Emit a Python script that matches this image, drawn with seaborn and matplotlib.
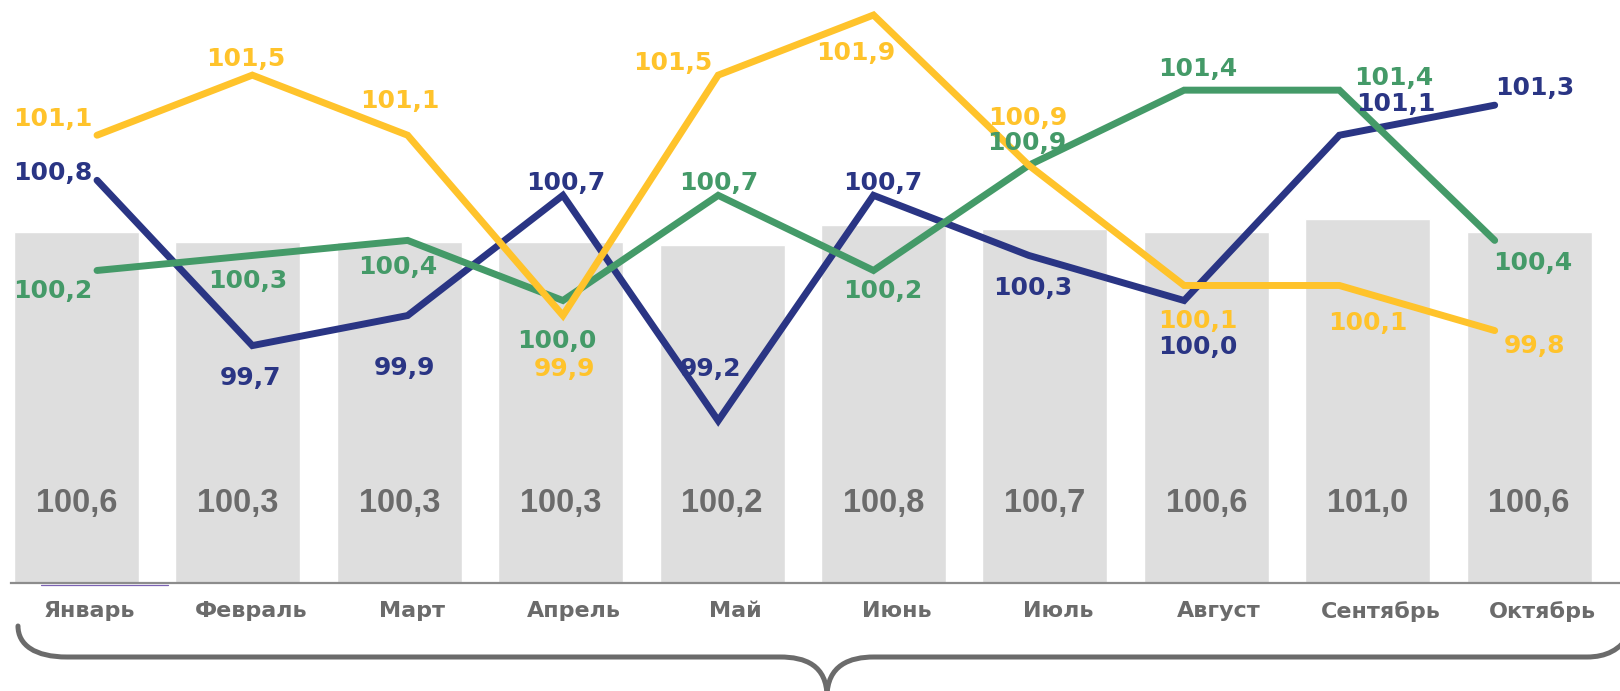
import numpy as np
import pandas as pd
import matplotlib
matplotlib.use("Agg")
import matplotlib.pyplot as plt
import seaborn as sns
from matplotlib.path import Path
from matplotlib.patches import PathPatch
from matplotlib.lines import Line2D

months = ["Январь", "Февраль", "Март", "Апрель", "Май", "Июнь", "Июль",
          "Август", "Сентябрь", "Октябрь"]
bar_values = [100.6, 100.3, 100.3, 100.3, 100.2, 100.8, 100.7, 100.6, 101.0, 100.6]
yellow_values = [101.1, 101.5, 101.1, 99.9, 101.5, 101.9, 100.9, 100.1, 100.1, 99.8]
blue_values = [100.8, 99.7, 99.9, 100.7, 99.2, 100.7, 100.3, 100.0, 101.1, 101.3]
green_values = [100.2, 100.3, 100.4, 100.0, 100.7, 100.2, 100.9, 101.4, 101.4, 100.4]

# label-centre offsets from each point, in pixels (x right, y down)
yellow_off = [(-44, -18), (-7, -18), (-8, -36), (2, 51), (-45, -14), (-18, 36),
              (-1, -49), (14, 34), (28, 36), (40, 13)]
blue_off = [(-44, -9), (-2, 30), (-3, 50), (3, -14), (-8, -54), (9, -14),
            (4, 31), (14, 44), (56, -33), (40, -19)]
green_off = [(-44, 19), (-5, 24), (-10, 25), (-6, 38), (1, -14), (9, 19),
             (-2, -24), (14, -23), (54, -14), (38, 21)]

C_YELLOW = "#FFC32B"
C_BLUE = "#2A3584"
C_GREEN = "#449A68"
C_BAR = "#DEDEDE"
C_TEXT = "#6B6B6B"

sns.set_style("white")
plt.rcParams["font.family"] = ["DejaVu Sans"]

W, H = 1620, 691
fig = plt.figure(figsize=(W / 100, H / 100), dpi=100)
rect = [11 / W, (H - 583) / H, (W - 11) / W, 583 / H]

# ---- bars (primary axis) ----
ax = fig.add_axes(rect)
bar_df = pd.DataFrame({"month": months, "value": bar_values})
sns.barplot(data=bar_df, x="month", y="value", color=C_BAR, saturation=1,
            width=0.775, ax=ax, order=months)
ax.set_xlim(-0.406, 9.563)
ax.set_ylim(90, 107.6)
for s in ["top", "left", "right"]:
    ax.spines[s].set_visible(False)
ax.spines["bottom"].set_color("#8C8C8C")
ax.spines["bottom"].set_linewidth(1.6)
ax.set_yticks([])
ax.set_xlabel("")
ax.set_ylabel("")
ax.set_xticks(np.arange(len(months)) + 0.08)
ax.set_xticklabels(months)
ax.tick_params(axis="x", length=0, pad=13, labelsize=16, labelcolor=C_TEXT)
for t in ax.get_xticklabels():
    t.set_fontweight("bold")

for i, v in enumerate(bar_values):
    ax.annotate(f"{v:.1f}".replace(".", ","), xy=(i, 90), xytext=(0, 71),
                textcoords="offset pixels", ha="center", va="baseline",
                fontsize=23.5, fontweight="bold", color=C_TEXT,
                family=["Liberation Sans Narrow", "Liberation Sans", "DejaVu Sans"])

# ---- lines (secondary axis) ----
ax2 = fig.add_axes(rect, frameon=False)
pos = np.arange(len(months))
line_df = pd.concat([
    pd.DataFrame({"pos": pos, "value": blue_values, "series": "blue"}),
    pd.DataFrame({"pos": pos, "value": green_values, "series": "green"}),
    pd.DataFrame({"pos": pos, "value": yellow_values, "series": "yellow"}),
])
sns.lineplot(data=line_df, x="pos", y="value", hue="series",
             hue_order=["blue", "green", "yellow"],
             palette={"blue": C_BLUE, "green": C_GREEN, "yellow": C_YELLOW},
             linewidth=5, legend=False, sort=False, ax=ax2,
             solid_capstyle="round", solid_joinstyle="miter")
ax2.set_xlim(-0.554, 9.807)
ax2.set_ylim(98.12, 102.0)
ax2.set_xticks([])
ax2.set_yticks([])
ax2.set_xlabel("")
ax2.set_ylabel("")
ax2.patch.set_visible(False)

for vals, offs, col in [(blue_values, blue_off, C_BLUE),
                        (green_values, green_off, C_GREEN),
                        (yellow_values, yellow_off, C_YELLOW)]:
    for i, (v, (dx, dy)) in enumerate(zip(vals, offs)):
        ax2.annotate(f"{v:.1f}".replace(".", ","), xy=(i, v),
                     xytext=(dx, -(dy + 9)), textcoords="offset pixels",
                     ha="center", va="baseline", fontsize=18,
                     fontweight="bold", color=col)

# ---- small artefact line under January bar ----
fig.add_artist(Line2D([41 / W, 168 / W], [(H - 585) / H, (H - 585) / H],
                      color="#7B62B3", linewidth=0.9, transform=fig.transFigure))

# ---- curly brace ----
def fc(pts):
    return [(x / W, (H - y) / H) for x, y in pts]

left = fc([(18, 626), (18, 645), (35, 657), (67, 657), (780, 657),
           (805, 657), (827, 665), (827, 697)])
right = fc([(827, 697), (827, 665), (850, 657), (874, 657), (1587, 657),
            (1606, 657), (1620, 650), (1630, 634)])
codes = [Path.MOVETO, Path.CURVE4, Path.CURVE4, Path.CURVE4, Path.LINETO,
         Path.CURVE4, Path.CURVE4, Path.CURVE4]
for pts in (left, right):
    fig.add_artist(PathPatch(Path(pts, codes), facecolor="none",
                             edgecolor="#6B6B6B", linewidth=3.6,
                             capstyle="round", transform=fig.transFigure))

fig.savefig("out.png", dpi=100)
